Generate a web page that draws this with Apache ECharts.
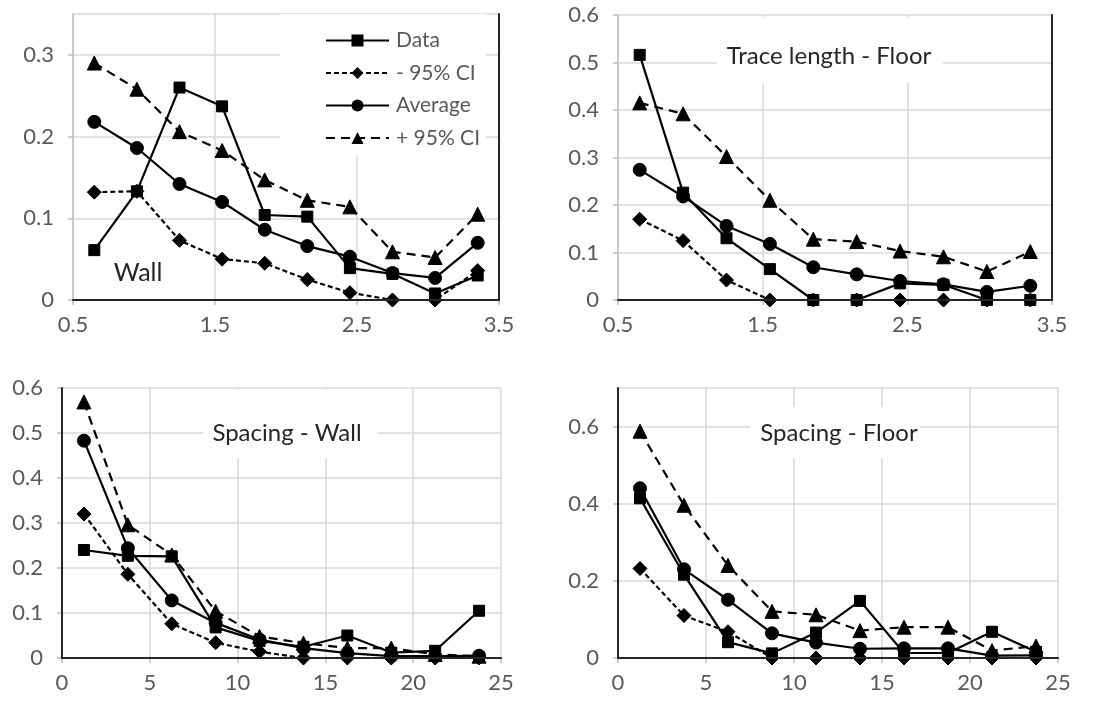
<!DOCTYPE html>
<html>
<head>
<meta charset="utf-8">
<script src="https://cdn.jsdelivr.net/npm/echarts@6/dist/echarts.min.js"></script>
<style>
  html, body { margin: 0; padding: 0; background: #fff; }
  #main { width: 1100px; height: 704px; }
</style>
</head>
<body>
<div id="main"></div>
<script>
// x positions (bin centres)
var lenX = [0.65, 0.95, 1.25, 1.55, 1.85, 2.15, 2.45, 2.75, 3.05, 3.35];
var spcX = [1.25, 3.75, 6.25, 8.75, 11.25, 13.75, 16.25, 18.75, 21.25, 23.75];

// trace length - wall
var wallLenData = [0.061, 0.133, 0.260, 0.237, 0.104, 0.102, 0.039, 0.032, 0.008, 0.030];
var wallLenLo   = [0.132, 0.133, 0.073, 0.050, 0.045, 0.025, 0.009, 0, 0, 0.036];
var wallLenAvg  = [0.218, 0.186, 0.142, 0.120, 0.086, 0.066, 0.053, 0.033, 0.027, 0.070];
var wallLenHi   = [0.290, 0.258, 0.206, 0.183, 0.147, 0.122, 0.114, 0.059, 0.052, 0.105];

// trace length - floor
var floorLenData = [0.516, 0.226, 0.130, 0.065, 0, 0, 0.035, 0.032, 0, 0];
var floorLenLo   = [0.170, 0.125, 0.042, 0, 0, 0, 0, 0, 0, 0];
var floorLenAvg  = [0.274, 0.218, 0.156, 0.118, 0.069, 0.054, 0.040, 0.033, 0.017, 0.030];
var floorLenHi   = [0.415, 0.392, 0.302, 0.210, 0.128, 0.123, 0.103, 0.091, 0.060, 0.102];

// spacing - wall
var wallSpcData = [0.240, 0.227, 0.226, 0.068, 0.038, 0.025, 0.050, 0.012, 0.016, 0.105];
var wallSpcLo   = [0.320, 0.186, 0.076, 0.034, 0.014, 0, 0, 0, 0, 0];
var wallSpcAvg  = [0.483, 0.244, 0.128, 0.078, 0.041, 0.022, 0.011, 0.004, 0.004, 0.005];
var wallSpcHi   = [0.569, 0.296, 0.229, 0.104, 0.048, 0.033, 0.022, 0.022, 0.008, 0.004];

// spacing - floor
var floorSpcData = [0.414, 0.216, 0.041, 0.012, 0.066, 0.148, 0.013, 0.013, 0.068, 0.016];
var floorSpcLo   = [0.232, 0.110, 0.068, 0, 0, 0, 0, 0, 0, 0];
var floorSpcAvg  = [0.440, 0.230, 0.151, 0.064, 0.040, 0.024, 0.025, 0.025, 0.006, 0.007];
var floorSpcHi   = [0.588, 0.396, 0.240, 0.121, 0.112, 0.071, 0.080, 0.080, 0.019, 0.031];

var seriesNames = ['Data', '- 95% CI', 'Average', '+ 95% CI'];

var FONT = 'Lato';
var LABEL_GREY = '#595959';

// panel layout + axis ranges
var panels = [
  { grid: { left: 73, top: 14, right: 601, bottom: 404 }, x: lenX, xMin: 0.5, xMax: 3.5, xInt: 1,
    yMax: 0.35, yInt: 0.1, ys: [wallLenData, wallLenLo, wallLenAvg, wallLenHi] },
  { grid: { left: 618, top: 15, right: 48, bottom: 404 }, x: lenX, xMin: 0.5, xMax: 3.5, xInt: 1,
    yMax: 0.6, yInt: 0.1, ys: [floorLenData, floorLenLo, floorLenAvg, floorLenHi] },
  { grid: { left: 62, top: 388, right: 599, bottom: 46 }, x: spcX, xMin: 0, xMax: 25, xInt: 5,
    yMax: 0.6, yInt: 0.1, ys: [wallSpcData, wallSpcLo, wallSpcAvg, wallSpcHi] },
  { grid: { left: 618, top: 388, right: 42, bottom: 46 }, x: spcX, xMin: 0, xMax: 25, xInt: 5,
    yMax: 0.7, yInt: 0.2, ys: [floorSpcData, floorSpcLo, floorSpcAvg, floorSpcHi] }
];

// marker / line look for each of the four curves
var styles = [
  { symbol: 'rect', size: 11, dash: 'solid' },
  { symbol: 'diamond', size: 14, dash: [5, 3] },
  { symbol: 'circle', size: 13, dash: 'solid' },
  { symbol: 'triangle', size: 14, dash: [9, 6] }
];

var grids = [], xAxes = [], yAxes = [], series = [];

panels.forEach(function (p, i) {
  grids.push(p.grid);
  var xi = xAxes.length, yi = yAxes.length;
  // main axes
  xAxes.push({
    type: 'value', gridIndex: i, min: p.xMin, max: p.xMax, interval: p.xInt,
    axisLine: { lineStyle: { color: '#bfbfbf', width: 1.5 } },
    axisTick: { show: true, length: 5, lineStyle: { color: '#bfbfbf', width: 1.5 } },
    axisLabel: { color: LABEL_GREY, fontFamily: FONT, fontSize: 22, margin: 14 },
    splitLine: { show: true, lineStyle: { color: '#d9d9d9', width: 1.5 } }
  });
  yAxes.push({
    type: 'value', gridIndex: i, min: 0, max: p.yMax, interval: p.yInt,
    axisLine: { show: true, lineStyle: { color: '#bfbfbf', width: 1.5 } },
    axisTick: { show: true, length: 5, lineStyle: { color: '#bfbfbf', width: 1.5 } },
    axisLabel: { color: LABEL_GREY, fontFamily: FONT, fontSize: 22, margin: 19, showMaxLabel: p.yMax !== 0.35 && p.yMax !== 0.7 },
    splitLine: { show: true, lineStyle: { color: '#d9d9d9', width: 1.5 } }
  });
  // dark frame on top and right
  xAxes.push({
    type: 'value', gridIndex: i, position: 'top', min: p.xMin, max: p.xMax, z: 6,
    axisLine: { show: true, lineStyle: { color: '#262626', width: 2 } },
    axisTick: { show: false }, axisLabel: { show: false }, splitLine: { show: false }
  });
  yAxes.push({
    type: 'value', gridIndex: i, position: 'right', min: 0, max: p.yMax, z: 6,
    axisLine: { show: true, lineStyle: { color: '#262626', width: 2 } },
    axisTick: { show: false }, axisLabel: { show: false }, splitLine: { show: false }
  });

  p.ys.forEach(function (vals, k) {
    var st = styles[k];
    series.push({
      name: seriesNames[k],
      type: 'line',
      xAxisIndex: xi,
      yAxisIndex: yi,
      data: vals.map(function (v, j) { return [p.x[j], v]; }),
      symbol: st.symbol,
      symbolSize: st.size,
      showAllSymbol: true,
      z: 3 + (k === 0 ? 1 : 0),
      lineStyle: { color: '#000', width: 2.2, type: st.dash },
      itemStyle: { color: '#000', borderColor: '#000' },
      animation: false
    });
  });
});

var chart = echarts.init(document.getElementById('main'));
chart.setOption({
  backgroundColor: '#fff',
  animation: false,
  grid: grids,
  xAxis: xAxes,
  yAxis: yAxes,
  series: series,
  legend: {
    data: seriesNames,
    orient: 'vertical',
    left: 280,
    top: 14,
    padding: [16, 6, 8, 45],
    itemGap: 11.5,
    itemWidth: 63,
    itemHeight: 15,
    backgroundColor: '#fff',
    selectedMode: false,
    textStyle: { color: LABEL_GREY, fontFamily: FONT, fontSize: 21, padding: [0, 0, 0, 2] }
  },
  graphic: [
    // white boxes behind panel titles (hide gridlines like the original)
    { type: 'rect', z: 1, shape: { x: 717, y: 17, width: 226, height: 66 }, style: { fill: '#fff' } },
    { type: 'rect', z: 1, shape: { x: 203, y: 390, width: 174, height: 68 }, style: { fill: '#fff' } },
    { type: 'rect', z: 1, shape: { x: 750, y: 407, width: 170, height: 51 }, style: { fill: '#fff' } },
    { type: 'text', z: 10, x: 138, y: 273, style: { text: 'Wall', font: '25px Lato', fill: '#262626', textAlign: 'center', textVerticalAlign: 'middle' } },
    { type: 'text', z: 10, x: 829, y: 56, style: { text: 'Trace length - Floor', font: '24px Lato', fill: '#262626', textAlign: 'center', textVerticalAlign: 'middle' } },
    { type: 'text', z: 10, x: 287, y: 433, style: { text: 'Spacing - Wall', font: '24px Lato', fill: '#262626', textAlign: 'center', textVerticalAlign: 'middle' } },
    { type: 'text', z: 10, x: 839, y: 433, style: { text: 'Spacing - Floor', font: '24px Lato', fill: '#262626', textAlign: 'center', textVerticalAlign: 'middle' } }
  ]
});
</script>
</body>
</html>
